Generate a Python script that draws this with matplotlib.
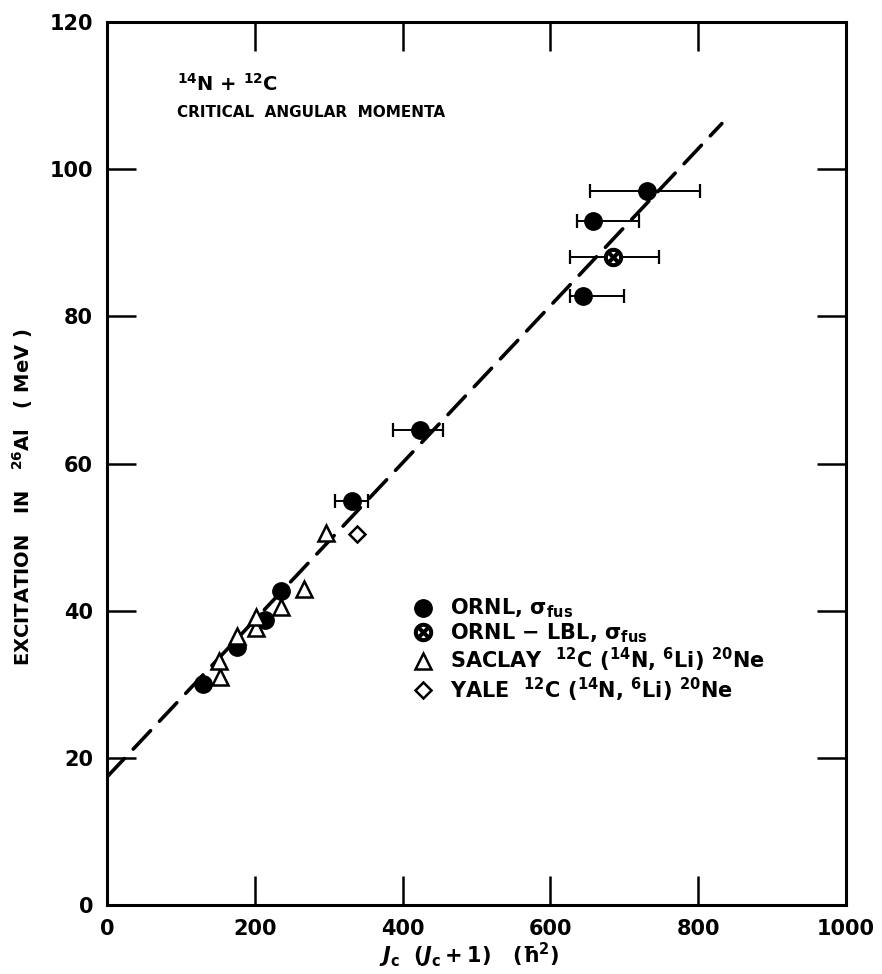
import matplotlib
matplotlib.use("Agg")
import matplotlib.pyplot as plt
import numpy as np

plt.rcParams['font.family'] = ['DejaVu Sans']
plt.rcParams['font.weight'] = 'bold'
plt.rcParams['axes.labelweight'] = 'bold'
plt.rcParams['mathtext.fontset'] = 'dejavusans'
plt.rcParams['mathtext.default'] = 'bf'

# ---- data ----
ornl_x = [130, 176, 214, 236, 331, 424, 644, 657, 731]
ornl_y = [30.0, 35.1, 38.7, 42.7, 54.9, 64.6, 82.8, 93.0, 97.1]
ornl_xerr_lo = [0, 0, 0, 0, 23, 37, 18, 21, 77]
ornl_xerr_hi = [0, 0, 0, 0, 22, 31, 56, 63, 72]

lbl_x = [685]
lbl_y = [88.0]
lbl_xerr_lo = [58]
lbl_xerr_hi = [62]

saclay_x = [153, 151, 176, 202, 202, 236, 267, 297]
saclay_y = [31.0, 33.1, 36.5, 37.6, 39.2, 40.5, 42.9, 50.6]

yale_x = [338]
yale_y = [50.4]

fit_x = [0, 832]
fit_y = [17.4, 106.2]

x_ticks = [0, 200, 400, 600, 800, 1000]
y_ticks = [0, 20, 40, 60, 80, 100, 120]

# ---- figure ----
fig = plt.figure(figsize=(8.82, 9.74), dpi=100)
ax = fig.add_axes([107/882, 69/974, 739/882, 883/974])
ax.set_xlim(0, 1000)
ax.set_ylim(0, 120)

ax.plot(fit_x, fit_y, color='black', lw=2.6, dashes=(7, 3.6),
        dash_capstyle='round', zorder=1)

# error bars
ax.errorbar(ornl_x, ornl_y, xerr=[ornl_xerr_lo, ornl_xerr_hi], fmt='none',
            ecolor='black', elinewidth=1.4, capsize=5, capthick=1.6, zorder=2)
ax.errorbar(lbl_x, lbl_y, xerr=[lbl_xerr_lo, lbl_xerr_hi], fmt='none',
            ecolor='black', elinewidth=1.4, capsize=5, capthick=1.6, zorder=2)

# markers
h_ornl, = ax.plot(ornl_x, ornl_y, linestyle='none', marker='o', ms=12.5,
                  color='black', zorder=3, label=r'ORNL, $\sigma_{fus}$')
ax.plot(lbl_x, lbl_y, linestyle='none', marker='o', ms=11, mfc='white',
        mec='white', zorder=3)
h_lbl, = ax.plot(lbl_x, lbl_y, linestyle='none', marker=r'$\otimes$', ms=13,
                 color='black', zorder=4, label=r'ORNL $-$ LBL, $\sigma_{fus}$')
h_sac, = ax.plot(saclay_x, saclay_y, linestyle='none', marker='^', ms=11,
                 mfc='white', mec='black', mew=1.8, zorder=3,
                 label=r'SACLAY  $^{12}$C ($^{14}$N, $^{6}$Li) $^{20}$Ne')
h_yale, = ax.plot(yale_x, yale_y, linestyle='none', marker='D', ms=8.5,
                  mfc='white', mec='black', mew=1.8, zorder=3,
                  label=r'YALE  $^{12}$C ($^{14}$N, $^{6}$Li) $^{20}$Ne')

# ---- axes style ----
for s in ax.spines.values():
    s.set_linewidth(2.2)
ax.set_xticks(x_ticks)
ax.set_yticks(y_ticks)
ax.tick_params(direction='in', length=21, width=1.8, top=True, right=True,
               labelsize=15, pad=10)
for lab in ax.get_xticklabels() + ax.get_yticklabels():
    lab.set_fontweight('bold')

ax.set_xlabel(r'$\mathit{J}_{c}\ \ (\mathit{J}_{c}+1)\ \ \ (\hbar^{2})$',
              fontsize=15)
ax.xaxis.set_label_coords(0.49, -0.041)
ax.set_ylabel(r'EXCITATION   IN   $^{26}$Al   ( MeV )', fontsize=14,
              fontweight='bold')
ax.yaxis.set_label_coords(-0.097, 0.462)

ax.text(0.095, 0.930, r'$^{14}$N + $^{12}$C', transform=ax.transAxes,
        fontsize=14, va='center', ha='left')
ax.text(0.095, 0.898, 'CRITICAL  ANGULAR  MOMENTA', transform=ax.transAxes,
        fontsize=11, va='center', ha='left')

leg = ax.legend([h_ornl, h_lbl, h_sac, h_yale],
                [h_ornl.get_label(), h_lbl.get_label(), h_sac.get_label(),
                 h_yale.get_label()],
                loc='upper left', bbox_to_anchor=(0.416, 0.349),
                frameon=False, fontsize=15, handlelength=0.8,
                handletextpad=0.9, labelspacing=0.05, borderpad=0,
                borderaxespad=0)

fig.savefig('out.png', dpi=100)
